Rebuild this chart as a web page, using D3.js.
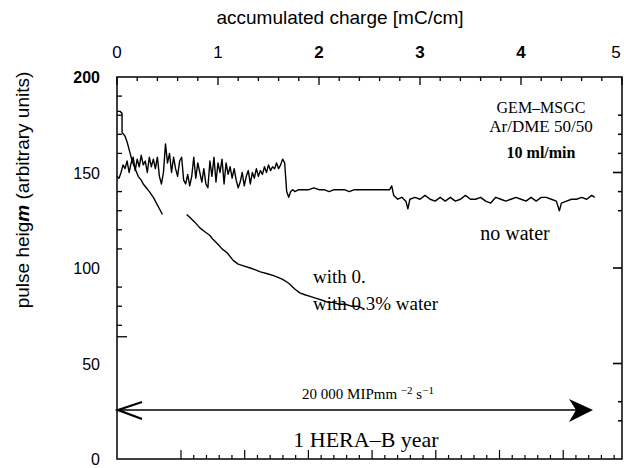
<!DOCTYPE html>
<html>
<head>
<meta charset="utf-8">
<script src="https://cdn.jsdelivr.net/npm/d3@7"></script>
<style>
  body { margin: 0; background: #fff; }
  svg { display: block; }
</style>
</head>
<body>
<svg id="chart" width="624" height="468"></svg>
<script>
// ---- data ----
// no water: [accumulated charge, pulse height]
var noWaterX = [0.00,0.02,0.04,0.06,0.08,0.10,0.12,0.14,0.16,0.18,0.20,0.22,0.24,0.26,0.28,0.30,0.32,0.34,0.36,0.38,
	0.40,0.42,0.44,0.46,0.48,0.50,0.52,0.54,0.56,0.58,0.60,0.62,0.64,0.66,0.68,0.70,0.72,0.74,0.76,0.78,
	0.80,0.82,0.84,0.86,0.88,0.90,0.92,0.94,0.96,0.98,1.00,1.02,1.04,1.06,1.08,1.10,1.12,1.14,1.16,1.18,
	1.20,1.22,1.24,1.26,1.28,1.30,1.32,1.34,1.36,1.38,1.40,1.42,1.44,1.46,1.48,1.50,1.52,1.54,1.56,1.58,
	1.60,1.62,1.64,1.66,1.68,1.70,1.72,1.74,1.76,1.80,1.85,1.90,1.95,2.00,2.05,2.10,2.15,2.20,2.25,2.30,
	2.35,2.40,2.45,2.50,2.55,2.60,2.65,2.70,2.72,2.74,2.78,2.82,2.86,2.88,2.90,2.95,3.00,3.05,3.10,3.15,
	3.20,3.25,3.30,3.35,3.40,3.45,3.50,3.55,3.60,3.65,3.70,3.75,3.80,3.85,3.90,3.95,4.00,4.05,4.10,4.15,
	4.20,4.25,4.30,4.35,4.38,4.40,4.45,4.50,4.55,4.60,4.65,4.70,4.73];
var noWaterY = [148,147,150,154,152,156,150,155,158,151,157,153,159,154,156,150,158,153,157,152,
	158,148,144,150,165,155,160,150,158,152,148,156,158,146,144,149,143,148,158,147,
	155,150,145,152,144,142,156,148,158,145,155,150,157,144,155,149,153,147,152,146,
	142,145,150,143,148,151,144,150,147,152,148,151,149,153,150,154,151,153,152,155,
	152,154,157,155,140,137,140,141,140,141,141,141,142,141,141,140,141,141,141,140,
	141,141,141,141,141,141,141,141,143,138,136,137,135,131,136,137,136,138,136,135,
	137,135,137,135,136,138,136,136,137,135,134,137,136,135,136,137,136,135,137,135,
	137,137,136,135,130,134,135,136,136,137,136,138,137];

// with 0.3% water, first piece then second piece after the gap
var waterX1 = [0.00,0.03,0.05,0.05,0.08,0.10,0.13,0.15,0.18,0.21,0.24,0.26,0.29,0.32,0.36,0.39,0.42,0.45];
var waterY1 = [182,182,181,171,169,166,160,156,152,148,146,144,142,140,137,134,131,128];
var waterX2 = [0.69,0.73,0.77,0.82,0.87,0.92,0.95,0.99,1.04,1.09,1.15,1.20,1.26,1.32,1.37,1.42,1.49,1.55,
	1.60,1.64,1.70,1.76,1.81,1.86,1.92,1.98,2.04,2.09,2.14,2.20,2.26,2.32,2.38,2.43];
var waterY2 = [128,126,124,121,119,117,115,113,110,108,104,102,101,100,99,98,97,96,
	95,94,92,89,87,86,85,84,83,82,82,81,81,80,80,79];

var topTicks = [0,1,2,3,4,5];
var topTickBold = [false,false,true,true,true,false];
var leftLabels = [0,50,100,150,200];
var leftMinor = [70,80,90,110,120,130,140,160,170,180,190];
var rightMinor = [20,30,130,140,160,170,180];
var rightMajor = [50,100,150];

var svg = d3.select("#chart");
var margin = {left: 117, right: 2, top: 77, bottom: 9};
var W = 624, H = 468;

var x = d3.scaleLinear().domain([0,5]).range([margin.left, W - margin.right]);
var y = d3.scaleLinear().domain([0,200]).range([H - margin.bottom, margin.top]);

var ink = "#000";

// frame
svg.append("rect")
	.attr("x", x(0)).attr("y", y(200))
	.attr("width", x(5) - x(0)).attr("height", y(0) - y(200))
	.attr("fill", "none").attr("stroke", ink).attr("stroke-width", 1.5);

// top axis ticks (majors on integers, minors every 0.2)
var topMinor = d3.range(0, 5.001, 0.2);
svg.append("g").selectAll("line").data(topMinor).enter().append("line")
	.attr("x1", function(d){ return x(d); }).attr("x2", function(d){ return x(d); })
	.attr("y1", y(200))
	.attr("y2", function(d){ return y(200) + (Math.abs(d - Math.round(d)) < 0.01 ? 8 : 4); })
	.attr("stroke", ink).attr("stroke-width", 1.3);

svg.append("g").selectAll("text").data(topTicks).enter().append("text")
	.attr("x", function(d){ return Math.min(x(d), 616); })
	.attr("y", 58)
	.attr("text-anchor", "middle")
	.style("font-family", "'Liberation Sans', Arial, sans-serif")
	.style("font-size", "17px")
	.style("font-weight", function(d, i){ return topTickBold[i] ? "bold" : "normal"; })
	.text(function(d){ return d; });

// bottom ticks (scan has its own spacing, shifted scale)
var xb = d3.scaleLinear().domain([0,1]).range([181, 244.7]);
var bottomTicks = d3.range(0, 7.001, 0.2).filter(function(d){ return xb(d) < x(5) - 1; });
svg.append("g").selectAll("line").data(bottomTicks).enter().append("line")
	.attr("x1", function(d){ return xb(d); }).attr("x2", function(d){ return xb(d); })
	.attr("y1", y(0))
	.attr("y2", function(d){ return y(0) - (Math.abs(d - Math.round(d)) < 0.01 ? 9 : 4); })
	.attr("stroke", ink).attr("stroke-width", 1.2);

// left axis
svg.append("g").selectAll("line").data(leftMinor).enter().append("line")
	.attr("x1", x(0)).attr("x2", x(0) + 5)
	.attr("y1", function(d){ return y(d); }).attr("y2", function(d){ return y(d); })
	.attr("stroke", ink).attr("stroke-width", 1.3);
svg.append("line")
	.attr("x1", x(0)).attr("x2", x(0) + 10)
	.attr("y1", y(64)).attr("y2", y(64))
	.attr("stroke", ink).attr("stroke-width", 1.3);

svg.append("g").selectAll("text").data(leftLabels).enter().append("text")
	.attr("x", 100)
	.attr("y", function(d){ return y(d) + 6; })
	.attr("text-anchor", "end")
	.style("font-family", "'Liberation Sans', Arial, sans-serif")
	.style("font-size", "16px")
	.style("font-weight", function(d){ return d === 200 ? "bold" : "normal"; })
	.text(function(d){ return d; });

// right axis ticks
svg.append("g").selectAll("line").data(rightMinor).enter().append("line")
	.attr("x1", x(5)).attr("x2", x(5) - 4)
	.attr("y1", function(d){ return y(d); }).attr("y2", function(d){ return y(d); })
	.attr("stroke", ink).attr("stroke-width", 1.5);
svg.append("g").selectAll("line").data(rightMajor).enter().append("line")
	.attr("x1", x(5)).attr("x2", x(5) - 9)
	.attr("y1", function(d){ return y(d); }).attr("y2", function(d){ return y(d); })
	.attr("stroke", ink).attr("stroke-width", 1.6);

// axis titles
svg.append("text")
	.attr("x", 340).attr("y", 24)
	.attr("text-anchor", "middle")
	.style("font-family", "'Liberation Sans', Arial, sans-serif")
	.style("font-size", "19px")
	.text("accumulated charge [mC/cm]");

var yt = svg.append("text")
	.attr("transform", "translate(29,190) rotate(-90)")
	.attr("text-anchor", "middle")
	.style("font-family", "'Liberation Sans', Arial, sans-serif")
	.style("font-size", "19px");
yt.append("tspan").text("pulse heig");
yt.append("tspan").style("font-weight", "bold").style("font-style", "italic").text("m");
yt.append("tspan").text(" (arbitrary units)");

// curves
var line = d3.line()
	.x(function(d){ return x(d[0]); })
	.y(function(d){ return y(d[1]); });

function pairs(xs, ys){ return xs.map(function(v, i){ return [v, ys[i]]; }); }

[pairs(noWaterX, noWaterY), pairs(waterX1, waterY1), pairs(waterX2, waterY2)].forEach(function(p){
	svg.append("path")
		.attr("d", line(p))
		.attr("fill", "none")
		.attr("stroke", ink)
		.attr("stroke-width", 1.4)
		.attr("stroke-linejoin", "round");
});

// annotations
var serif = "'Liberation Serif', 'Times New Roman', serif";
function label(tx, ty, s, size, anchor, weight){
	return svg.append("text")
		.attr("x", tx).attr("y", ty)
		.attr("text-anchor", anchor || "start")
		.style("font-family", serif)
		.style("font-size", size + "px")
		.style("font-weight", weight || "normal")
		.text(s);
}
label(541, 113, "GEM\u2013MSGC", 16, "middle");
label(541, 132, "Ar/DME 50/50", 17, "middle");
label(541, 158, "10 ml/min", 16, "middle", "bold");
label(515, 240, "no water", 20, "middle");
label(313, 283, "with 0.", 19);
label(313, 310, "with 0.3%  water", 19);

// rate label with superscripts
var rate = svg.append("text")
	.attr("x", 368).attr("y", 399)
	.attr("text-anchor", "middle")
	.style("font-family", serif)
	.style("font-size", "15px");
rate.append("tspan").text("20 000 MIPmm ");
rate.append("tspan").attr("dy", -5).style("font-size", "11px").text("\u22122");
rate.append("tspan").attr("dy", 5).text(" s");
rate.append("tspan").attr("dy", -5).style("font-size", "11px").text("\u22121");

label(366, 447, "1 HERA\u2013B  year", 22, "middle");

// double arrow
var ay = 410;
svg.append("line")
	.attr("x1", x(0)).attr("x2", 582)
	.attr("y1", ay).attr("y2", ay)
	.attr("stroke", ink).attr("stroke-width", 1.3);
svg.append("path")
	.attr("d", "M142," + (ay - 8) + " L" + (x(0) + 1) + "," + ay + " L142," + (ay + 9))
	.attr("fill", "none").attr("stroke", ink).attr("stroke-width", 2.2);
svg.append("path")
	.attr("d", "M569," + (ay - 11) + " L593," + ay + " L569," + (ay + 12) + " L576," + ay + " Z")
	.attr("fill", ink);
</script>
</body>
</html>
